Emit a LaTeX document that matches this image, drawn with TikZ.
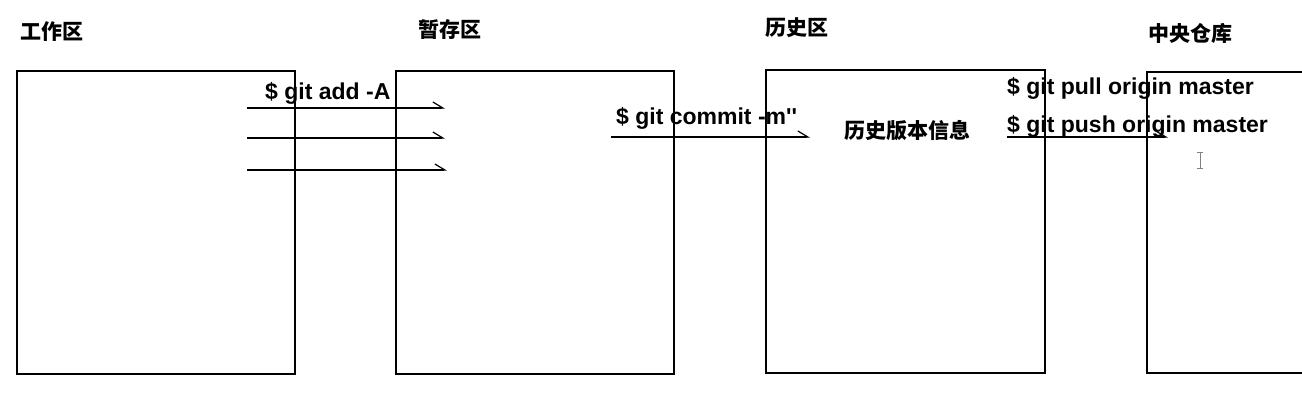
\documentclass[tikz,border=0pt]{standalone}
\usepackage{fontspec}
\setmainfont{Liberation Sans}[Ligatures=TeXOff]
\newfontfamily\cjk{Noto Sans CJK SC}
\usetikzlibrary{arrows.meta}
\tikzset{area/.style={rectangle,draw,line width=1.2pt,minimum width=278pt,minimum height=303pt,inner sep=0pt,outer sep=0pt},
  zone/.style={font=\cjk\bfseries\fontsize{21}{25}\selectfont,inner sep=0pt},
  cmd/.style={font=\bfseries\fontsize{23}{27}\selectfont,inner sep=0pt,anchor=base west},
  flow/.style={line width=1.2pt,-{Straight Barb[left,length=10pt,width=12pt,line width=1.2pt]}}}

\begin{document}
\begin{tikzpicture}[x=1pt,y=-1pt]
        \useasboundingbox (0,0) rectangle (1302,411);
        \begin{scope}
        \clip (0,0) rectangle (1302,411);
        \node[area] (work)at (156,222.5) {};
        \node[area] (stage)at (535,222.5) {};
        \node[area,minimum width=279pt] (hist)at (905.5,221.5) {};
        \node[area,minimum height=301pt] (repo)at (1286,222.5) {};
        \end{scope}

        \node[zone] (t1)at (52,32) {工作区};
        \node[zone] (t2)at (450,30) {暂存区};
        \node[zone] (t3)at (797,28) {历史区};
        \node[zone] (t4)at (1190,33) {中央仓库};

        \node[cmd] (add)at (265,100) {\$ git add -A};
        \node[cmd] (commit)at (616,125) {\$ git commit -m''};
        \node[zone] (info)at (907,131) {历史版本信息};
        \node[cmd] (pull)at (1007,95) {\$ git pull origin master};
        \node[cmd] (push)at (1007,133) {\$ git push origin master};

        \coordinate (a1)at (247,108); \coordinate (b1)at (445,108);
        \coordinate (a2)at (247,138); \coordinate (b2)at (445,138);
        \coordinate (a3)at (247,170); \coordinate (b3)at (447,170);
        \coordinate (c1)at (611,137); \coordinate (c2)at (810,137);
        \coordinate (d1)at (1007,137); \coordinate (d2)at (1168,137);

        \draw [flow] (a1) to (b1);
        \draw [flow] (a2) to (b2);
        \draw [flow] (a3) to (b3);
        \draw [flow] (c1) to (c2);
        \draw [flow] (d1) to (d2);

        % cursor
        \draw [line width=0.8pt,gray] (1200,152) -- (1200,168)
            (1197,152) -- (1203,152) (1197,168) -- (1203,168);
    \end{tikzpicture}
\end{document}
